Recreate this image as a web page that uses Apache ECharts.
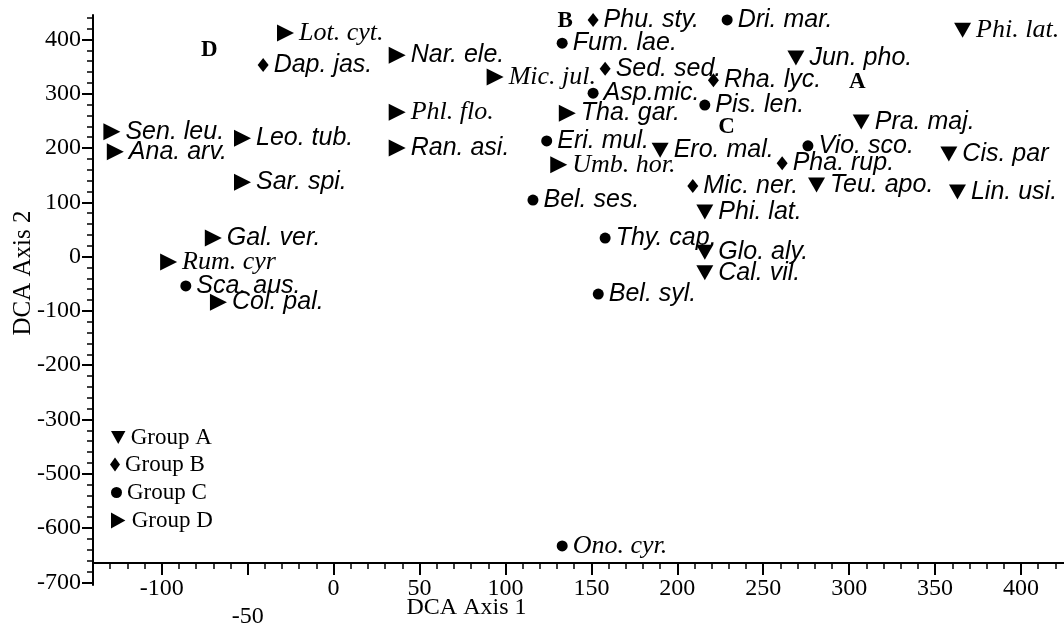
<!DOCTYPE html>
<html>
<head>
<meta charset="utf-8">
<script src="https://cdn.jsdelivr.net/npm/echarts@6/dist/echarts.min.js"></script>
<style>
  html, body { margin: 0; padding: 0; background: #ffffff; }
  #chart { width: 1064px; height: 624px; }
</style>
</head>
<body>
<div id="chart"></div>
<script>
// DCA ordination scores of the species, by group (axis 1, axis 2)
const groupANames = ['Phi. lat.', 'Jun. pho.', 'Pra. maj.', 'Ero. mal.', 'Cis. par', 'Teu. apo.', 'Lin. usi.', 'Phi. lat.', 'Glo. aly.', 'Cal. vil.'];
const groupAAxis1 = [366, 269, 307, 190, 358, 281, 363, 216, 216, 216];
const groupAAxis2 = [417, 366, 248, 196, 189, 132, 119, 82, 8, -30];

const groupBNames = ['Dap. jas.', 'Phu. sty.', 'Sed. sed.', 'Rha. lyc.', 'Pha. rup.', 'Mic. ner.'];
const groupBAxis1 = [-41, 151, 158, 221, 261, 209];
const groupBAxis2 = [353, 436, 346, 325, 172, 130];

const groupCNames = ['Fum. lae.', 'Dri. mar.', 'Asp.mic.', 'Pis. len.', 'Eri. mul.', 'Vio. sco.', 'Bel. ses.', 'Thy. cap.', 'Sca. aus.', 'Bel. syl.', 'Ono. cyr.'];
const groupCAxis1 = [133, 229, 151, 216, 124, 276, 116, 158, -86, 154, 133];
const groupCAxis2 = [393, 436, 301, 279, 213, 204, 104, 34, -54, -69, -533];

const groupDNames = ['Lot. cyt.', 'Nar. ele.', 'Mic. jul.', 'Phl. flo.', 'Ran. asi.', 'Sen. leu.', 'Ana. arv.', 'Leo. tub.', 'Sar. spi.', 'Gal. ver.', 'Rum. cyr', 'Col. pal.', 'Tha. gar.', 'Umb. hor.'];
const groupDAxis1 = [-28, 37, 94, 37, 37, -129, -127, -53, -53, -70, -96, -67, 136, 131];
const groupDAxis2 = [412, 371, 331, 266, 200, 230, 193, 218, 137, 34, -10, -84, 264, 169];

// Group letters written on the plot
const groupTagNames = ['A', 'B', 'C', 'D'];
const groupTagAxis1 = [305, 135, 229, -72];
const groupTagAxis2 = [320, 432, 237, 380];

// Axis ticks
const axis1TickValues = [-100, -50, 0, 50, 100, 150, 200, 250, 300, 350, 400];
const axis2TickValues = [400, 300, 200, 100, 0, -100, -200, -300, -400, -500, -600];
const axis2TickLabels = ['400', '300', '200', '100', '0', '-100', '-200', '-300', '-500', '-600', '-700'];

// Species whose label is set in the roman (serif) face: group letter + index
const serifLabelled = ['A0', 'C10', 'D0', 'D2', 'D3', 'D10', 'D13'];

const SERIF = '"Liberation Serif", "Times New Roman", serif';
const SANS = '"Liberation Sans", Arial, sans-serif';
const INK = '#000000';

const X_MIN = -140, X_MAX = 425, Y_MIN = -605, Y_MAX = 445;

function minorTicks(lo, hi, step, major) {
  const out = [];
  for (let v = lo; v <= hi; v += step) if (v % major !== 0) out.push(v);
  return out;
}
const axis1Minor = minorTicks(-140, 420, 10, 50);
const axis2Minor = minorTicks(-600, 440, 20, 100);

function buildData(letter, names, a1, a2) {
  return names.map((n, i) => {
    const item = { name: n, value: [a1[i], a2[i]] };
    if (serifLabelled.indexOf(letter + i) >= 0) {
      item.label = { fontFamily: SERIF, fontSize: 26 };
    }
    return item;
  });
}

const pointLabel = {
  show: true,
  position: 'right',
  distance: 5,
  formatter: p => p.name,
  color: INK,
  fontStyle: 'italic',
  fontFamily: SANS,
  fontSize: 25
};

const groups = [
  { name: 'Group A', letter: 'A', names: groupANames, a1: groupAAxis1, a2: groupAAxis2,
    symbol: 'path://M0,0L20,0L10,18Z', size: [17, 15] },
  { name: 'Group B', letter: 'B', names: groupBNames, a1: groupBAxis1, a2: groupBAxis2,
    symbol: 'diamond', size: [11, 14] },
  { name: 'Group C', letter: 'C', names: groupCNames, a1: groupCAxis1, a2: groupCAxis2,
    symbol: 'circle', size: 11 },
  { name: 'Group D', letter: 'D', names: groupDNames, a1: groupDAxis1, a2: groupDAxis2,
    symbol: 'path://M0,0L18,10L0,20Z', size: [17, 17] }
];

const series = groups.map(g => ({
  type: 'scatter',
  name: g.name,
  symbol: g.symbol,
  symbolSize: g.size,
  itemStyle: { color: INK, opacity: 1 },
  label: pointLabel,
  emphasis: { disabled: true },
  data: buildData(g.letter, g.names, g.a1, g.a2)
}));

series.push({
  type: 'scatter',
  name: 'tags',
  symbol: 'circle',
  symbolSize: 1,
  itemStyle: { color: 'rgba(0,0,0,0)' },
  label: {
    show: true, position: [0, 0], align: 'center', verticalAlign: 'middle',
    formatter: p => p.name,
    color: INK, opacity: 1, textBorderWidth: 0,
    fontFamily: SERIF, fontWeight: 'bold', fontSize: 23
  },
  emphasis: { disabled: true },
  data: groupTagNames.map((n, i) => ({ name: n, value: [groupTagAxis1[i], groupTagAxis2[i]] }))
});

// One legend block per group so each marker keeps its own proportions
const legendSpecs = [
  { name: 'Group A', left: 111, top: 426, w: 15, h: 13 },
  { name: 'Group B', left: 110, top: 453, w: 10, h: 14 },
  { name: 'Group C', left: 111, top: 481, w: 11, h: 11 },
  { name: 'Group D', left: 111, top: 509, w: 17, h: 16 }
];
const legends = legendSpecs.map(s => ({
  data: [s.name],
  left: s.left,
  top: s.top,
  orient: 'vertical',
  itemWidth: s.w,
  itemHeight: s.h,
  itemGap: 0,
  padding: 0,
  selectedMode: false,
  itemStyle: { color: INK },
  textStyle: { color: INK, fontFamily: SERIF, fontSize: 23 }
}));

const axisFont = { color: INK, fontFamily: SERIF, fontSize: 24 };

const option = {
  animation: false,
  backgroundColor: '#ffffff',
  legend: legends,
  grid: { left: 93, right: 0, top: 15, bottom: 39, containLabel: false, outerBoundsMode: 'none' },
  xAxis: [
    {
      type: 'value', min: X_MIN, max: X_MAX, position: 'bottom', offset: -22,
      axisLine: { show: true, onZero: false, lineStyle: { color: INK, width: 2 } },
      axisTick: { show: true, customValues: axis1TickValues, length: 12, lineStyle: { color: INK, width: 2 } },
      axisLabel: {
        customValues: axis1TickValues, margin: 12, lineHeight: 28,
        formatter: v => (v === -50 ? '\n-50' : String(v)),
        ...axisFont
      },
      splitLine: { show: false },
      name: 'DCA Axis 1', nameLocation: 'middle', nameGap: 33, nameMoveOverlap: false,
      nameTextStyle: { ...axisFont, padding: [0, 224, 0, 0] }
    },
    {
      type: 'value', min: X_MIN, max: X_MAX, position: 'bottom', offset: -22,
      axisLine: { show: false, onZero: false },
      axisTick: { show: true, customValues: axis1Minor, length: 6, lineStyle: { color: INK, width: 1.5 } },
      axisLabel: { show: false },
      splitLine: { show: false }
    }
  ],
  yAxis: [
    {
      type: 'value', min: Y_MIN, max: Y_MAX, position: 'left',
      axisLine: { show: true, onZero: false, lineStyle: { color: INK, width: 2 } },
      axisTick: { show: true, customValues: axis2TickValues, length: 11, lineStyle: { color: INK, width: 2 } },
      axisLabel: {
        customValues: axis2TickValues, margin: 12,
        formatter: v => axis2TickLabels[axis2TickValues.indexOf(v)],
        ...axisFont
      },
      splitLine: { show: false },
      name: 'DCA Axis 2', nameLocation: 'middle', nameGap: 57, nameMoveOverlap: false,
      nameTextStyle: { ...axisFont, fontSize: 25, padding: [0, 0, 0, 54] }
    },
    {
      type: 'value', min: Y_MIN, max: Y_MAX, position: 'left',
      axisLine: { show: false, onZero: false },
      axisTick: { show: true, customValues: axis2Minor, length: 6, lineStyle: { color: INK, width: 1.5 } },
      axisLabel: { show: false },
      splitLine: { show: false }
    }
  ],
  series: series
};

const chart = echarts.init(document.getElementById('chart'), null, { renderer: 'canvas' });
chart.setOption(option);
</script>
</body>
</html>
